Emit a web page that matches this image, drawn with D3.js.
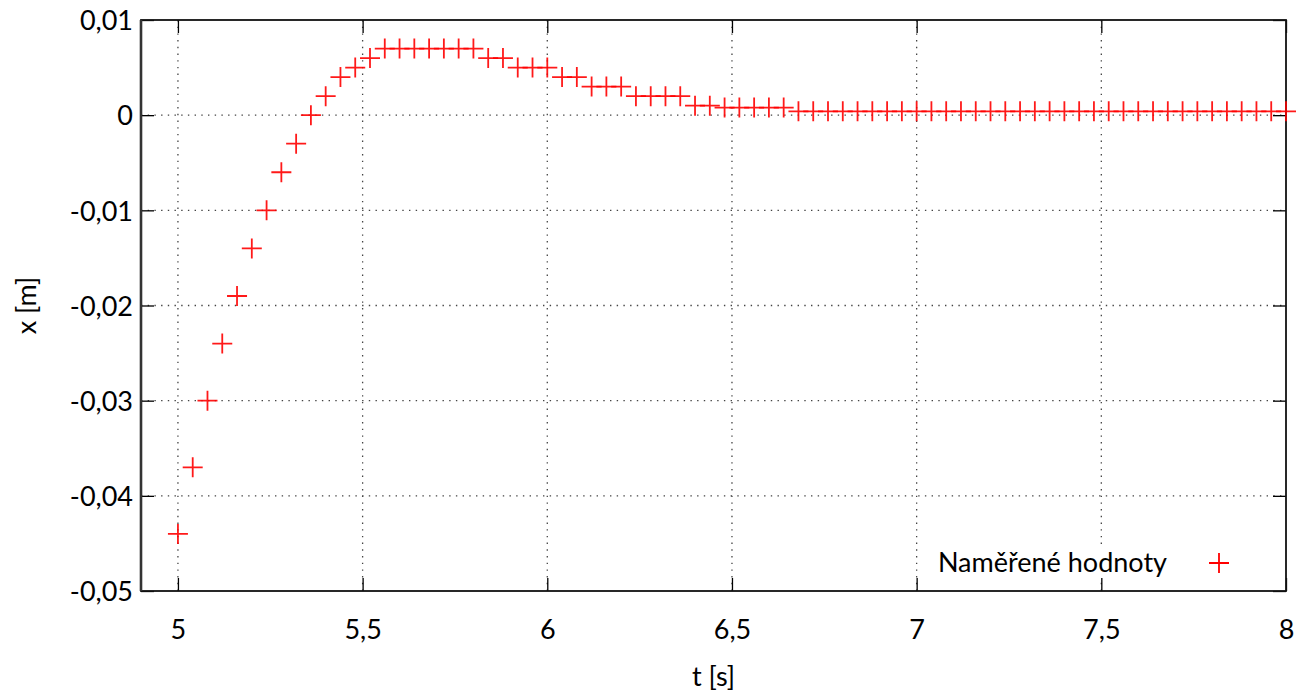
<!DOCTYPE html>
<html>
<head>
<meta charset="utf-8">
<script src="https://cdn.jsdelivr.net/npm/d3@7"></script>
<style>
  body { margin: 0; background: #fff; }
  svg text { font-family: Lato, "Open Sans", sans-serif; fill: #000; }
</style>
</head>
<body>
<svg id="chart" width="1298" height="692"></svg>
<script>
// measured samples, t [s]
var times = [
  5.00, 5.04, 5.08, 5.12, 5.16, 5.20, 5.24, 5.28, 5.32, 5.36,
  5.40, 5.44, 5.48, 5.52, 5.56, 5.60, 5.64, 5.68, 5.72, 5.76,
  5.80, 5.84, 5.88, 5.92, 5.96, 6.00, 6.04, 6.08, 6.12, 6.16,
  6.20, 6.24, 6.28, 6.32, 6.36, 6.40, 6.44, 6.48, 6.52, 6.56,
  6.60, 6.64, 6.68, 6.72, 6.76, 6.80, 6.84, 6.88, 6.92, 6.96,
  7.00, 7.04, 7.08, 7.12, 7.16, 7.20, 7.24, 7.28, 7.32, 7.36,
  7.40, 7.44, 7.48, 7.52, 7.56, 7.60, 7.64, 7.68, 7.72, 7.76,
  7.80, 7.84, 7.88, 7.92, 7.96, 8.00
];
// x [m]
var positions = [
  -0.044, -0.037, -0.030, -0.024, -0.019, -0.014, -0.010, -0.006, -0.003, 0.000,
  0.002, 0.004, 0.005, 0.006, 0.007, 0.007, 0.007, 0.007, 0.007, 0.007,
  0.007, 0.006, 0.006, 0.005, 0.005, 0.005, 0.004, 0.004, 0.003, 0.003,
  0.003, 0.002, 0.002, 0.002, 0.002, 0.001, 0.001, 0.0008, 0.0008, 0.0008,
  0.0008, 0.0008, 0.0004, 0.0004, 0.0004, 0.0004, 0.0004, 0.0004, 0.0004, 0.0004,
  0.0004, 0.0004, 0.0004, 0.0004, 0.0004, 0.0004, 0.0004, 0.0004, 0.0004, 0.0004,
  0.0004, 0.0004, 0.0004, 0.0004, 0.0004, 0.0004, 0.0004, 0.0004, 0.0004, 0.0004,
  0.0004, 0.0004, 0.0004, 0.0004, 0.0004, 0.0004
];

var xTicks = [5, 5.5, 6, 6.5, 7, 7.5, 8];
var yTicks = [-0.05, -0.04, -0.03, -0.02, -0.01, 0, 0.01];
var legendLabel = "Naměřené hodnoty";

var svg = d3.select("#chart");
var pL = 141, pR = 1286, pT = 20, pB = 591;

var x = d3.scaleLinear().domain([4.9, 8]).range([pL, pR]);
var y = d3.scaleLinear().domain([-0.05, 0.01]).range([pB, pT]);

function comma(v) { return String(+v.toFixed(3)).replace(".", ","); }

// grid
svg.append("g").selectAll("line")
  .data(xTicks.filter(function(d) { return d < 8; }))
  .enter().append("line")
    .attr("x1", function(d) { return x(d); })
    .attr("x2", function(d) { return x(d); })
    .attr("y1", pT).attr("y2", pB)
    .attr("stroke", "#444").attr("stroke-width", 1.3)
    .attr("stroke-dasharray", "1.4,5.3");
svg.append("g").selectAll("line")
  .data(yTicks.filter(function(d) { return d > -0.05 && d < 0.01; }))
  .enter().append("line")
    .attr("x1", pL).attr("x2", pR)
    .attr("y1", function(d) { return y(d); })
    .attr("y2", function(d) { return y(d); })
    .attr("stroke", "#444").attr("stroke-width", 1.3)
    .attr("stroke-dasharray", "1.4,5.3");

// opaque key box
svg.append("rect")
  .attr("x", 928).attr("y", 547)
  .attr("width", 350).attr("height", 31)
  .attr("fill", "#fff");

// axes, ticks drawn inward and mirrored
var tl = 13;
svg.append("g").attr("transform", "translate(0," + pB + ")")
  .call(d3.axisBottom(x).tickValues(xTicks).tickSizeInner(-tl).tickSizeOuter(0).tickFormat(comma))
  .call(function(g) {
    g.select(".domain").remove();
    g.selectAll("line").attr("stroke", "#000").attr("stroke-width", 1.3);
    g.selectAll("text").attr("y", 48).attr("dy", 0).style("font-size", "27px").style("font-family", "Lato");
  });
svg.append("g").attr("transform", "translate(0," + pT + ")")
  .call(d3.axisTop(x).tickValues(xTicks).tickSizeInner(-tl).tickSizeOuter(0).tickFormat(""))
  .call(function(g) {
    g.select(".domain").remove();
    g.selectAll("line").attr("stroke", "#000").attr("stroke-width", 1.3);
  });
svg.append("g").attr("transform", "translate(" + pL + ",0)")
  .call(d3.axisLeft(y).tickValues(yTicks).tickSizeInner(-tl).tickSizeOuter(0).tickFormat(comma))
  .call(function(g) {
    g.select(".domain").remove();
    g.selectAll("line").attr("stroke", "#000").attr("stroke-width", 1.3);
    g.selectAll("text").attr("x", -8).attr("dy", "0.36em").style("font-size", "27px").style("font-family", "Lato");
  });
svg.append("g").attr("transform", "translate(" + pR + ",0)")
  .call(d3.axisRight(y).tickValues(yTicks).tickSizeInner(-tl).tickSizeOuter(0).tickFormat(""))
  .call(function(g) {
    g.select(".domain").remove();
    g.selectAll("line").attr("stroke", "#000").attr("stroke-width", 1.3);
  });

// border
svg.append("rect")
  .attr("x", pL).attr("y", pT)
  .attr("width", pR - pL).attr("height", pB - pT)
  .attr("fill", "none").attr("stroke", "#111").attr("stroke-width", 1.8);
svg.append("line")
  .attr("x1", pL).attr("x2", pL).attr("y1", pT).attr("y2", pB)
  .attr("stroke", "#333").attr("stroke-width", 2.6);

// axis titles
svg.append("text")
  .attr("x", (pL + pR) / 2).attr("y", 686)
  .attr("text-anchor", "middle")
  .style("font-size", "27px")
  .text("t [s]");
svg.append("text")
  .attr("transform", "translate(36," + ((pT + pB) / 2) + ") rotate(-90)")
  .attr("text-anchor", "middle")
  .style("font-size", "27px")
  .text("x [m]");

// points as "+" marks
var pts = times.map(function(t, i) { return [t, positions[i]]; });
var cs = 10;
function cross(px, py) {
  return "M" + (px - cs) + "," + py + "H" + (px + cs) +
         "M" + px + "," + (py - cs) + "V" + (py + cs);
}
svg.append("g").selectAll("path")
  .data(pts)
  .enter().append("path")
    .attr("d", function(d) { return cross(x(d[0]), y(d[1])); })
    .attr("stroke", "#ff0000").attr("stroke-width", 1.8)
    .attr("stroke-opacity", 0.9)
    .attr("fill", "none");

// key
svg.append("text")
  .attr("x", 1167).attr("y", 572)
  .attr("text-anchor", "end")
  .style("font-size", "27px")
  .text(legendLabel);
svg.append("path")
  .attr("d", cross(1219, 563))
  .attr("stroke", "#ff0000").attr("stroke-width", 1.8)
  .attr("fill", "none");
</script>
</body>
</html>
